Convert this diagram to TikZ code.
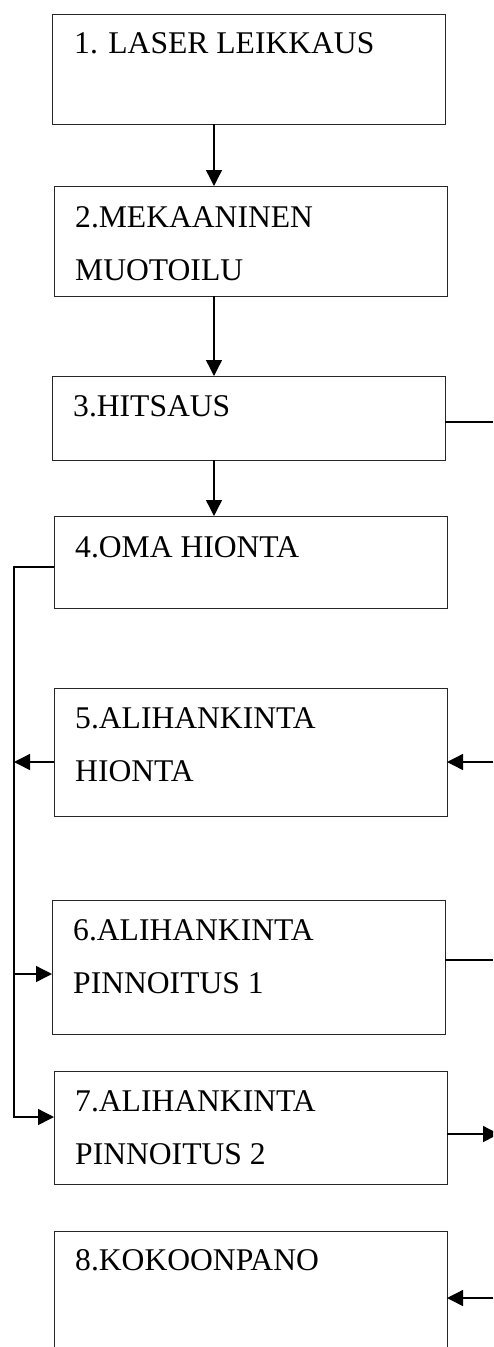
\documentclass[tikz,border=0pt]{standalone}
\usepackage{fontspec}
\setmainfont{Liberation Serif}
\usetikzlibrary{arrows.meta,positioning}

\begin{document}
\begin{tikzpicture}[
    x=1pt, y=1pt,
    stepbox/.style={rectangle, draw=black!85, line width=1pt, minimum width=393pt, outer sep=0pt, inner sep=0pt},
    steptext/.style={anchor=base west, inner sep=0pt, align=left, font=\fontsize{31.6}{53}\selectfont},
    flow/.style={-{Triangle[length=16pt,width=16pt]}, line width=1.4pt},
    link/.style={line width=1.4pt}
]
\clip (0,0) rectangle (493,-1347);

\node[stepbox, minimum height=110pt, anchor=north west] (box1) at (52,-14) {};
\node[stepbox, minimum height=110pt] (box2) [below=62pt of box1, xshift=2pt] {};
\node[stepbox, minimum height=84pt] (box3) [below=80pt of box2, xshift=-2pt] {};
\node[stepbox, minimum height=92pt] (box4) [below=56pt of box3, xshift=2pt] {};
\node[stepbox, minimum height=128pt] (box5) [below=80pt of box4] {};
\node[stepbox, minimum height=134pt] (box6) [below=84pt of box5, xshift=-2pt] {};
\node[stepbox, minimum height=113pt] (box7) [below=37pt of box6, xshift=2pt] {};
\node[stepbox, minimum height=160pt] (box8) [below=47pt of box7] {};

% base of a two-line text is its second line
\node[steptext] (t1) at ([shift={(22pt,-39pt)}]box1.north west) {1. LASER LEIKKAUS};
\node[steptext] (t2) at ([shift={(21pt,-94pt)}]box2.north west) {2.MEKAANINEN\\MUOTOILU};
\node[steptext] (t3) at ([shift={(21pt,-40pt)}]box3.north west) {3.HITSAUS};
\node[steptext] (t4) at ([shift={(21pt,-41pt)}]box4.north west) {4.OMA HIONTA};
\node[steptext] (t5) at ([shift={(21pt,-93pt)}]box5.north west) {5.ALIHANKINTA\\HIONTA};
\node[steptext] (t6) at ([shift={(21pt,-93pt)}]box6.north west) {6.ALIHANKINTA\\PINNOITUS 1};
\node[steptext] (t7) at ([shift={(21pt,-93pt)}]box7.north west) {7.ALIHANKINTA\\PINNOITUS 2};
\node[steptext] (t8) at ([shift={(21pt,-39pt)}]box8.north west) {8.KOKOONPANO};

\coordinate (ax) at (214,0);
\coordinate (sp4) at (14,-567);
\coordinate (sp7) at (14,-1117);
\coordinate (l5) at (14,-762);
\coordinate (l6) at (14,-974);
\coordinate (r3) at (493,-422);
\coordinate (r5) at (493,-762);
\coordinate (r6) at (493,-960);
\coordinate (r7) at (499,-1134);
\coordinate (r8) at (493,-1298);

\draw[flow] (box1.south -| ax) -- (box2.north -| ax);
\draw[flow] (box2.south -| ax) -- (box3.north -| ax);
\draw[flow] (box3.south -| ax) -- (box4.north -| ax);
\draw[link] (box3.east |- r3) -- (r3);
\draw[flow] (box4.west |- sp4) -- (sp4) -- (sp7) -- (box7.west |- sp7);
\draw[flow] (box5.west |- l5) -- (l5);
\draw[flow] (r5) -- (box5.east |- r5);
\draw[flow] (l6) -- (box6.west |- l6);
\draw[link] (box6.east |- r6) -- (r6);
\draw[flow] (box7.east |- r7) -- (r7);
\draw[flow] (r8) -- (box8.east |- r8);
\end{tikzpicture}
\end{document}
